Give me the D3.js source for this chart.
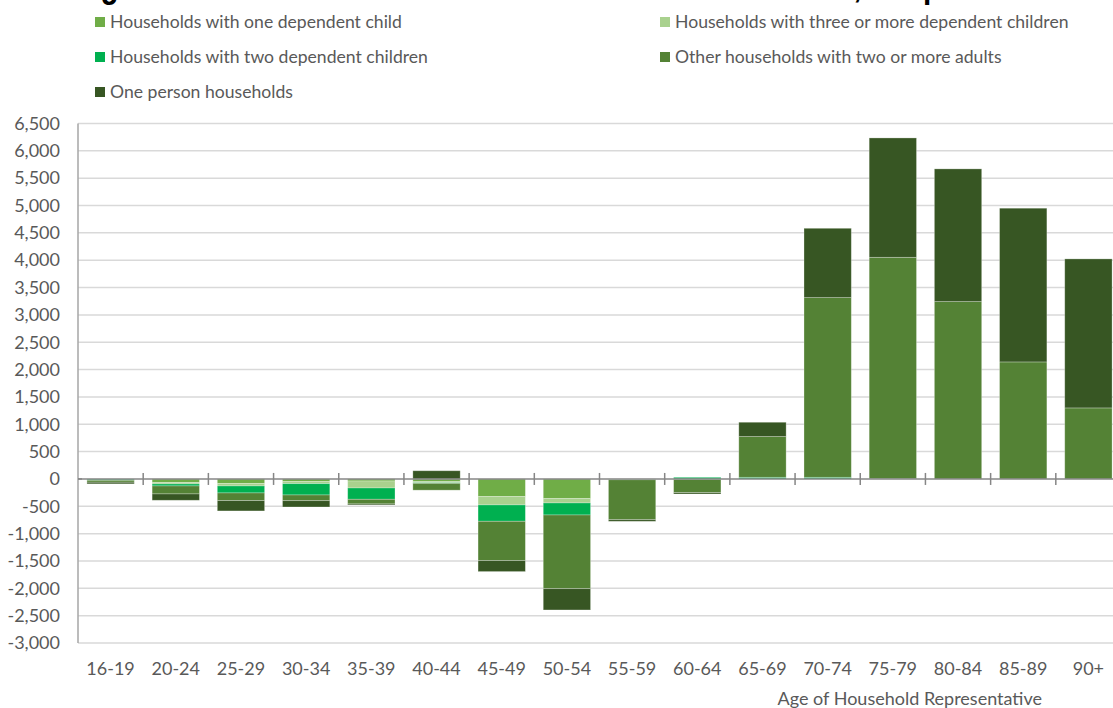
<!DOCTYPE html>
<html>
<head>
<meta charset="utf-8">
<script src="https://cdn.jsdelivr.net/npm/d3@7/dist/d3.min.js"></script>
<style>
  html, body { margin: 0; padding: 0; background: #fff; overflow: hidden; }
  svg { display: block; font-family: Lato, "Open Sans", sans-serif; }
</style>
</head>
<body>
<svg id="chart" width="1113" height="708"></svg>
<script>
// Age bands of the household representative
const categories = ["16-19","20-24","25-29","30-34","35-39","40-44","45-49","50-54",
                    "55-59","60-64","65-69","70-74","75-79","80-84","85-89","90+"];

// Change in number of households by type
const oneChild     = [-5, -67, -85, -49, -37, -50, -323, -360, -5, -5, 0, 0, 0, 0, 0, 0];
const threePlus    = [0, -24, -43, -37, -128, -20, -152, -79, -5, -5, 0, 0, 0, 0, 0, 0];
const twoChildren  = [-20, -37, -128, -207, -207, -10, -299, -220, -5, 30, 30, 30, 5, 0, 0, 0];
const otherAdults  = [-35, -146, -140, -104, -85, -125, -719, -1347, -730, -240, 745, 3286, 4048, 3243, 2140, 1299];
const onePerson    = [-30, -116, -189, -116, -18, 150, -201, -390, -30, -25, 262, 1268, 2183, 2427, 2811, 2725];

const seriesNames = [
  "Households with one dependent child",
  "Households with three or more dependent children",
  "Households with two dependent children",
  "Other households with two or more adults",
  "One person households"
];
const seriesValues = [oneChild, threePlus, twoChildren, otherAdults, onePerson];
const seriesColors = ["#70ad47", "#a9d18e", "#00b050", "#548235", "#375623"];

const yTicks = d3.range(-3000, 6501, 500);

const rows = categories.map((c, i) => {
  const r = { cat: c };
  seriesNames.forEach((n, k) => r[n] = seriesValues[k][i]);
  return r;
});

const svg = d3.select("#chart");
const plotLeft = 78, plotRight = 1121, plotTop = 123.5, plotBottom = 643;

const x = d3.scaleBand().domain(categories).range([plotLeft, plotRight])
  .paddingInner(0.274).paddingOuter(0.137);
const y = d3.scaleLinear().domain([-3000, 6500]).range([plotBottom, plotTop]);

// Title (sits above the top edge of the page; only its descenders show)
svg.append("text")
  .attr("transform", "translate(74,-3) scale(0.826,1)")
  .attr("font-family", "Liberation Sans, Arial, sans-serif")
  .attr("font-weight", "bold").attr("font-size", 36).attr("fill", "#000")
  .text("Figure 7: Net increase in households from 2018 to 2043, the period of the local plan");

// Gridlines
svg.append("g").selectAll("line").data(yTicks.filter(d => d !== 0)).join("line")
  .attr("x1", plotLeft).attr("x2", 1113)
  .attr("y1", d => y(d)).attr("y2", d => y(d))
  .attr("stroke", "#d9d9d9").attr("stroke-width", 1.5);

// Y axis labels (plain hyphen for negatives)
const fmt = d3.format(",");
const yAxis = d3.axisLeft(y).tickValues(yTicks).tickSize(0).tickPadding(18)
  .tickFormat(d => fmt(d).replace("\u2212", "-"));
const gy = svg.append("g").attr("transform", `translate(${plotLeft},0)`).call(yAxis);
gy.select(".domain").remove();
gy.selectAll("text").attr("font-size", 18).attr("fill", "#595959")
  .attr("font-family", "Lato, sans-serif");

// Stacked bars (positives up, negatives down)
const stack = d3.stack().keys(seriesNames).offset(d3.stackOffsetDiverging);
const layers = stack(rows);

svg.append("g").selectAll("g").data(layers).join("g")
  .attr("fill", (d, i) => seriesColors[i])
  .selectAll("rect").data(d => d).join("rect")
  .attr("x", d => x(d.data.cat))
  .attr("width", x.bandwidth())
  .attr("y", d => y(Math.max(d[0], d[1])))
  .attr("height", d => Math.abs(y(d[0]) - y(d[1])))
  .attr("stroke", "rgba(255,255,255,0.35)").attr("stroke-width", 0.8);

// Vertical axis line
svg.append("line").attr("x1", plotLeft).attr("x2", plotLeft)
  .attr("y1", plotTop).attr("y2", plotBottom)
  .attr("stroke", "#a6a6a6").attr("stroke-width", 1.5);
svg.append("line").attr("x1", plotLeft).attr("x2", plotLeft + 4)
  .attr("y1", y(0)).attr("y2", y(0)).attr("stroke", "#868686").attr("stroke-width", 1.5);

// Horizontal axis at zero with cross tick marks at category boundaries
const xAxis = svg.append("g");
xAxis.append("line").attr("x1", plotLeft).attr("x2", 1113)
  .attr("y1", y(0)).attr("y2", y(0))
  .attr("stroke", "#868686").attr("stroke-width", 1.5);
const step = x.step();
xAxis.selectAll("line.tick").data(categories.slice(1)).join("line")
  .attr("class", "tick")
  .attr("x1", d => x(d) - step * 0.137).attr("x2", d => x(d) - step * 0.137)
  .attr("y1", y(0) - 6).attr("y2", y(0) + 6)
  .attr("stroke", "#868686").attr("stroke-width", 1.5);

// Category labels
svg.append("g").selectAll("text").data(categories).join("text")
  .attr("x", d => x(d) + x.bandwidth() / 2)
  .attr("y", 675)
  .attr("text-anchor", "middle")
  .attr("font-size", 18).attr("fill", "#595959")
  .text(d => d);

// Axis title
svg.append("text").attr("x", 1042).attr("y", 705)
  .attr("text-anchor", "end").attr("font-size", 18).attr("fill", "#595959")
  .text("Age of Household Representative");

// Legend
const legendPos = [[95, 22], [660, 22], [95, 57], [660, 57], [95, 92]];
const lg = svg.append("g").selectAll("g").data(seriesNames).join("g")
  .attr("transform", (d, i) => `translate(${legendPos[i][0]},${legendPos[i][1]})`);
lg.append("rect").attr("x", 0).attr("y", -5).attr("width", 10).attr("height", 10)
  .attr("fill", (d, i) => seriesColors[i]);
lg.append("text").attr("x", 15).attr("y", 6)
  .attr("font-size", 17.6).attr("fill", "#595959")
  .text(d => d);
</script>
</body>
</html>
